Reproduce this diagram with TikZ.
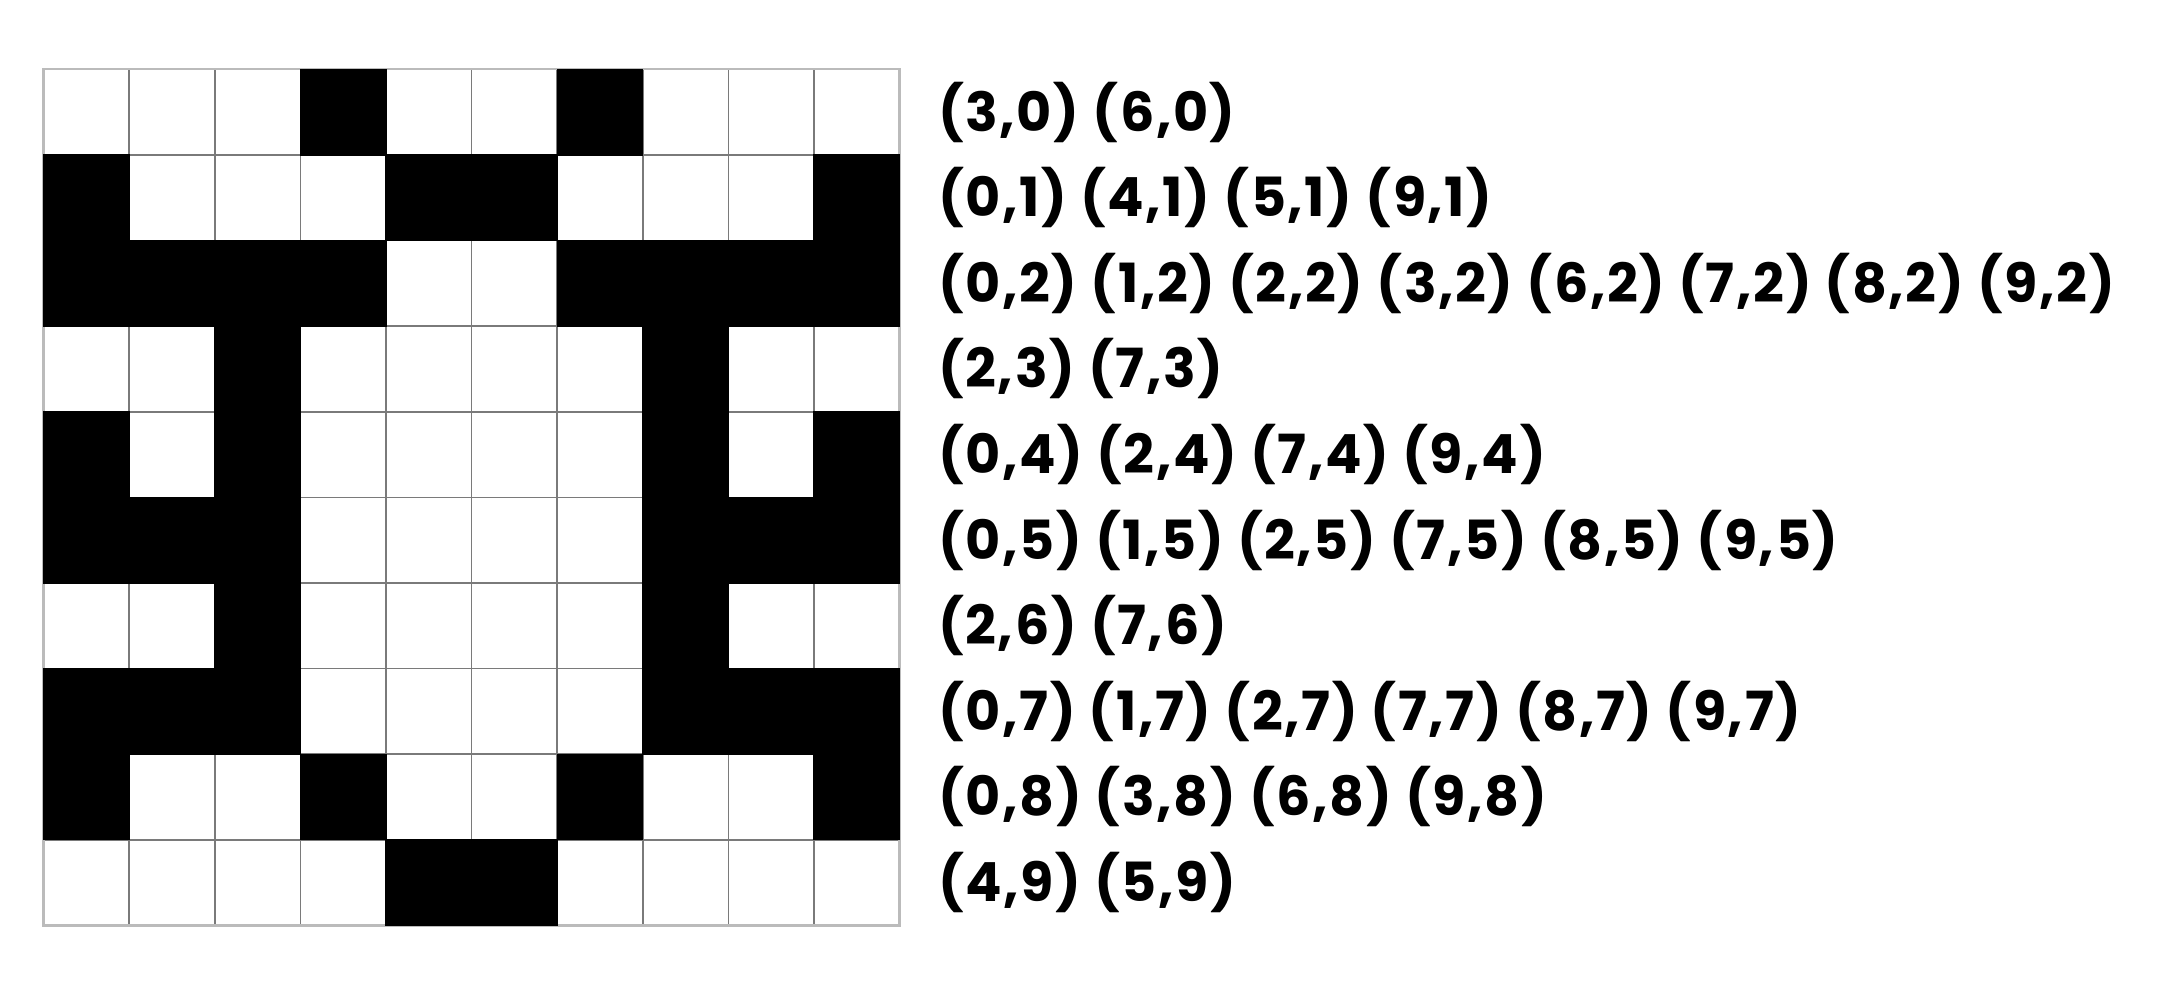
\documentclass[tikz,border=0pt]{standalone}
\usepackage{fontspec}
\newfontfamily\labfont{Poppins}[LetterSpace=3.0]
\definecolor{gridgray}{HTML}{7A7A7A}
\definecolor{bordergray}{HTML}{BBBBBB}
\begin{document}
\begin{tikzpicture}[x=1pt,y=-1pt,
  cellfill/.style={fill=black},
  gridline/.style={draw=gridgray,line width=1.6pt},
  borderline/.style={draw=bordergray,line width=2.4pt},
  rowlabel/.style={anchor=west,inner sep=0pt,font=\labfont\bfseries\fontsize{54}{64}\selectfont}]
\useasboundingbox (0,0) rectangle (2164,982);
\def\cs{85.6}
\def\ox{43.5}
\def\oy{69.3}
% grid
\foreach \i in {1,...,9}{
  \draw[gridline] (\ox+\i*\cs,\oy) -- (\ox+\i*\cs,\oy+10*\cs);
  \draw[gridline] (\ox,\oy+\i*\cs) -- (\ox+10*\cs,\oy+\i*\cs);
}
\draw[borderline] (\ox,\oy) rectangle (\ox+10*\cs,\oy+10*\cs);
% black cells
\foreach \c/\r in {3/0,6/0, 0/1,4/1,5/1,9/1, 0/2,1/2,2/2,3/2,6/2,7/2,8/2,9/2,
  2/3,7/3, 0/4,2/4,7/4,9/4, 0/5,1/5,2/5,7/5,8/5,9/5, 2/6,7/6,
  0/7,1/7,2/7,7/7,8/7,9/7, 0/8,3/8,6/8,9/8, 4/9,5/9}{
  \fill[cellfill] (\ox+\c*\cs-0.6,\oy+\r*\cs-0.6) rectangle (\ox+\c*\cs+\cs+0.6,\oy+\r*\cs+\cs+0.6);
}
% labels
\def\lx{938}
\node[rowlabel] (l0) at (\lx,\oy+0.5*\cs) {(3,0) (6,0)};
\node[rowlabel] (l1) at (\lx,\oy+1.5*\cs) {(0,1) (4,1) (5,1) (9,1)};
\node[rowlabel] (l2) at (\lx,\oy+2.5*\cs) {(0,2) (1,2) (2,2) (3,2) (6,2) (7,2) (8,2) (9,2)};
\node[rowlabel] (l3) at (\lx,\oy+3.5*\cs) {(2,3) (7,3)};
\node[rowlabel] (l4) at (\lx,\oy+4.5*\cs) {(0,4) (2,4) (7,4) (9,4)};
\node[rowlabel] (l5) at (\lx,\oy+5.5*\cs) {(0,5) (1,5) (2,5) (7,5) (8,5) (9,5)};
\node[rowlabel] (l6) at (\lx,\oy+6.5*\cs) {(2,6) (7,6)};
\node[rowlabel] (l7) at (\lx,\oy+7.5*\cs) {(0,7) (1,7) (2,7) (7,7) (8,7) (9,7)};
\node[rowlabel] (l8) at (\lx,\oy+8.5*\cs) {(0,8) (3,8) (6,8) (9,8)};
\node[rowlabel] (l9) at (\lx,\oy+9.5*\cs) {(4,9) (5,9)};
\end{tikzpicture}
\end{document}
